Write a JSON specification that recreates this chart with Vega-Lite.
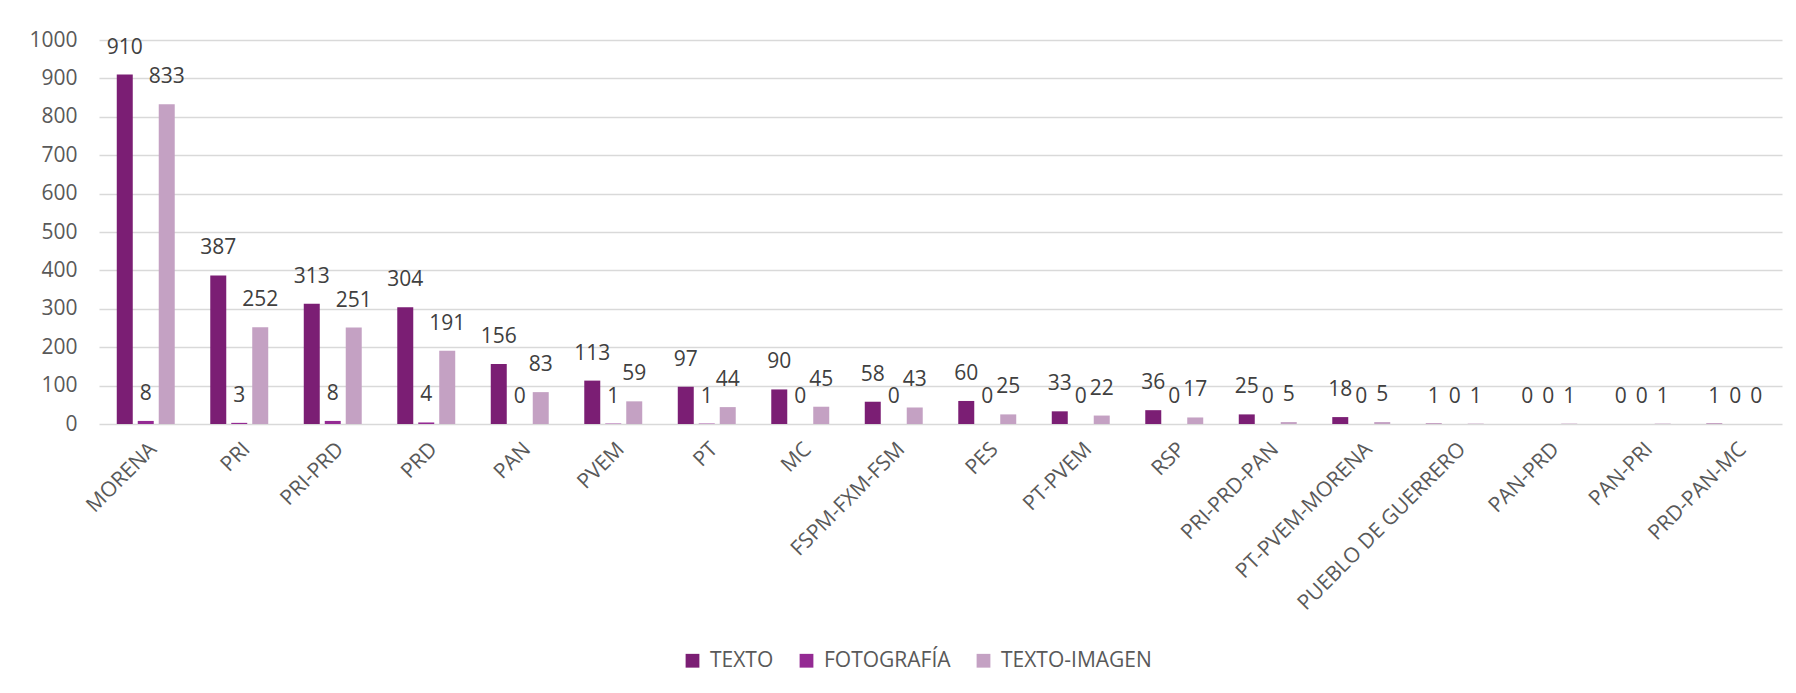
{
  "$schema": "https://vega.github.io/schema/vega-lite/v6.json",
  "width": 1683,
  "height": 384,
  "autosize": {"type": "none"},
  "padding": {"left": 99, "top": 40, "right": 14, "bottom": 269},
  "background": "white",
  "config": {"view": {"stroke": null}, "font": "Open Sans"},
  "data": {
    "values": [
      {"partido": "MORENA", "tipo": "TEXTO", "valor": 910},
      {"partido": "MORENA", "tipo": "FOTOGRAFÍA", "valor": 8},
      {"partido": "MORENA", "tipo": "TEXTO-IMAGEN", "valor": 833},
      {"partido": "PRI", "tipo": "TEXTO", "valor": 387},
      {"partido": "PRI", "tipo": "FOTOGRAFÍA", "valor": 3},
      {"partido": "PRI", "tipo": "TEXTO-IMAGEN", "valor": 252},
      {"partido": "PRI-PRD", "tipo": "TEXTO", "valor": 313},
      {"partido": "PRI-PRD", "tipo": "FOTOGRAFÍA", "valor": 8},
      {"partido": "PRI-PRD", "tipo": "TEXTO-IMAGEN", "valor": 251},
      {"partido": "PRD", "tipo": "TEXTO", "valor": 304},
      {"partido": "PRD", "tipo": "FOTOGRAFÍA", "valor": 4},
      {"partido": "PRD", "tipo": "TEXTO-IMAGEN", "valor": 191},
      {"partido": "PAN", "tipo": "TEXTO", "valor": 156},
      {"partido": "PAN", "tipo": "FOTOGRAFÍA", "valor": 0},
      {"partido": "PAN", "tipo": "TEXTO-IMAGEN", "valor": 83},
      {"partido": "PVEM", "tipo": "TEXTO", "valor": 113},
      {"partido": "PVEM", "tipo": "FOTOGRAFÍA", "valor": 1},
      {"partido": "PVEM", "tipo": "TEXTO-IMAGEN", "valor": 59},
      {"partido": "PT", "tipo": "TEXTO", "valor": 97},
      {"partido": "PT", "tipo": "FOTOGRAFÍA", "valor": 1},
      {"partido": "PT", "tipo": "TEXTO-IMAGEN", "valor": 44},
      {"partido": "MC", "tipo": "TEXTO", "valor": 90},
      {"partido": "MC", "tipo": "FOTOGRAFÍA", "valor": 0},
      {"partido": "MC", "tipo": "TEXTO-IMAGEN", "valor": 45},
      {"partido": "FSPM-FXM-FSM", "tipo": "TEXTO", "valor": 58},
      {"partido": "FSPM-FXM-FSM", "tipo": "FOTOGRAFÍA", "valor": 0},
      {"partido": "FSPM-FXM-FSM", "tipo": "TEXTO-IMAGEN", "valor": 43},
      {"partido": "PES", "tipo": "TEXTO", "valor": 60},
      {"partido": "PES", "tipo": "FOTOGRAFÍA", "valor": 0},
      {"partido": "PES", "tipo": "TEXTO-IMAGEN", "valor": 25},
      {"partido": "PT-PVEM", "tipo": "TEXTO", "valor": 33},
      {"partido": "PT-PVEM", "tipo": "FOTOGRAFÍA", "valor": 0},
      {"partido": "PT-PVEM", "tipo": "TEXTO-IMAGEN", "valor": 22},
      {"partido": "RSP", "tipo": "TEXTO", "valor": 36},
      {"partido": "RSP", "tipo": "FOTOGRAFÍA", "valor": 0},
      {"partido": "RSP", "tipo": "TEXTO-IMAGEN", "valor": 17},
      {"partido": "PRI-PRD-PAN", "tipo": "TEXTO", "valor": 25},
      {"partido": "PRI-PRD-PAN", "tipo": "FOTOGRAFÍA", "valor": 0},
      {"partido": "PRI-PRD-PAN", "tipo": "TEXTO-IMAGEN", "valor": 5},
      {"partido": "PT-PVEM-MORENA", "tipo": "TEXTO", "valor": 18},
      {"partido": "PT-PVEM-MORENA", "tipo": "FOTOGRAFÍA", "valor": 0},
      {"partido": "PT-PVEM-MORENA", "tipo": "TEXTO-IMAGEN", "valor": 5},
      {"partido": "PUEBLO DE GUERRERO", "tipo": "TEXTO", "valor": 1},
      {"partido": "PUEBLO DE GUERRERO", "tipo": "FOTOGRAFÍA", "valor": 0},
      {"partido": "PUEBLO DE GUERRERO", "tipo": "TEXTO-IMAGEN", "valor": 1},
      {"partido": "PAN-PRD", "tipo": "TEXTO", "valor": 0},
      {"partido": "PAN-PRD", "tipo": "FOTOGRAFÍA", "valor": 0},
      {"partido": "PAN-PRD", "tipo": "TEXTO-IMAGEN", "valor": 1},
      {"partido": "PAN-PRI", "tipo": "TEXTO", "valor": 0},
      {"partido": "PAN-PRI", "tipo": "FOTOGRAFÍA", "valor": 0},
      {"partido": "PAN-PRI", "tipo": "TEXTO-IMAGEN", "valor": 1},
      {"partido": "PRD-PAN-MC", "tipo": "TEXTO", "valor": 1},
      {"partido": "PRD-PAN-MC", "tipo": "FOTOGRAFÍA", "valor": 0},
      {"partido": "PRD-PAN-MC", "tipo": "TEXTO-IMAGEN", "valor": 0}
    ]
  },
  "encoding": {
    "x": {
      "field": "partido",
      "type": "nominal",
      "sort": null,
      "title": null,
      "scale": {"paddingInner": 0.38, "paddingOuter": 0.19},
      "axis": {
        "labelAngle": -45,
        "labelFontSize": 21,
        "labelColor": "#595959",
        "labelPadding": 14,
        "domain": false,
        "ticks": false,
        "labelLimit": 400
      }
    },
    "xOffset": {
      "field": "tipo",
      "type": "nominal",
      "sort": ["TEXTO", "FOTOGRAFÍA", "TEXTO-IMAGEN"],
      "scale": {"paddingInner": 0.238, "paddingOuter": 0}
    },
    "y": {
      "field": "valor",
      "type": "quantitative",
      "title": null,
      "scale": {"domain": [0, 1000], "nice": false},
      "axis": {
        "values": [0, 100, 200, 300, 400, 500, 600, 700, 800, 900, 1000],
        "format": "d",
        "labelFontSize": 21,
        "labelColor": "#595959",
        "labelPadding": 22,
        "domain": false,
        "ticks": false,
        "gridColor": "#d9d9d9",
        "gridWidth": 1.6
      }
    }
  },
  "layer": [
    {
      "mark": {"type": "bar"},
      "encoding": {
        "color": {
          "field": "tipo",
          "type": "nominal",
          "sort": ["TEXTO", "FOTOGRAFÍA", "TEXTO-IMAGEN"],
          "scale": {
            "domain": ["TEXTO", "FOTOGRAFÍA", "TEXTO-IMAGEN"],
            "range": ["#7b1e74", "#942a93", "#c4a1c3"]
          },
          "legend": {
            "title": null,
            "orient": "none",
            "direction": "horizontal",
            "legendX": 583,
            "legendY": 610,
            "padding": 0,
            "symbolType": "square",
            "symbolSize": 190,
            "symbolStrokeWidth": 0,
            "labelFontSize": 21,
            "labelColor": "#595959",
            "labelOffset": 7,
            "columnPadding": 22
          }
        }
      }
    },
    {
      "mark": {"type": "text", "baseline": "bottom", "dy": -17, "fontSize": 21, "color": "#404040"},
      "encoding": {"text": {"field": "valor", "type": "quantitative"}}
    }
  ]
}
